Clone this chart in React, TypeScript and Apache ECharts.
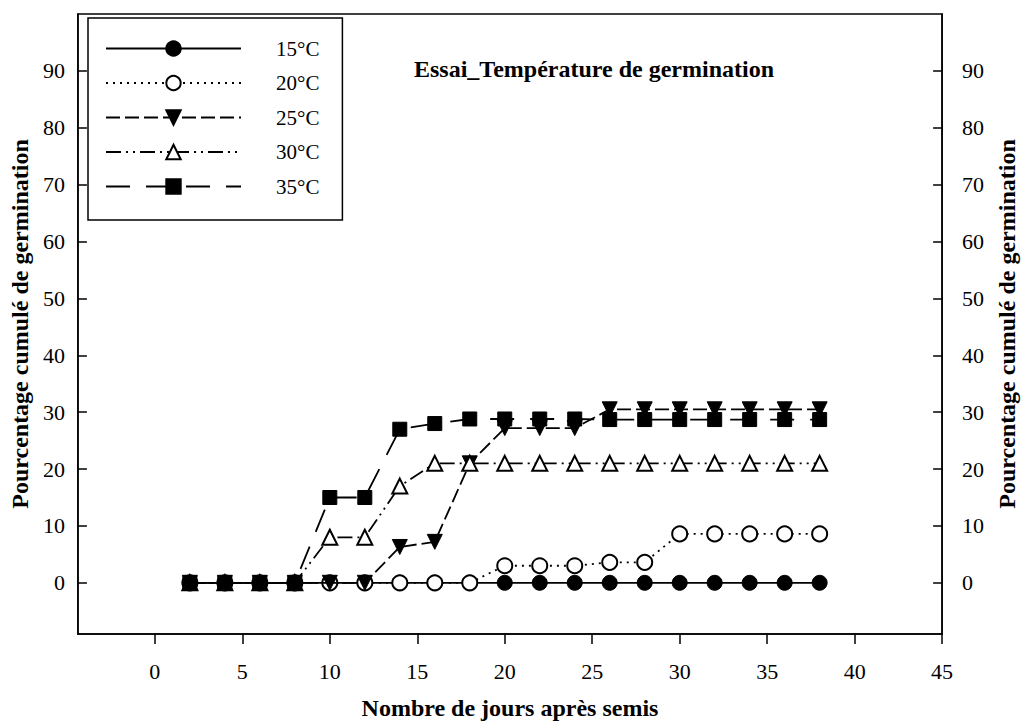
import React, { useEffect, useRef } from "react";
import * as echarts from "echarts";

const days = [2, 4, 6, 8, 10, 12, 14, 16, 18, 20, 22, 24, 26, 28, 30, 32, 34, 36, 38];
const names = ["15°C", "20°C", "25°C", "30°C", "35°C"];
const t15 = [0, 0, 0, 0, 0, 0, 0, 0, 0, 0, 0, 0, 0, 0, 0, 0, 0, 0, 0];
const t20 = [0, 0, 0, 0, 0, 0, 0, 0, 0, 3, 3, 3, 3.6, 3.6, 8.6, 8.6, 8.6, 8.6, 8.6];
const t25 = [0, 0, 0, 0, 0, 0, 6.3, 7.2, 21, 27.2, 27.2, 27.2, 30.5, 30.5, 30.5, 30.5, 30.5, 30.5, 30.5];
const t30 = [0, 0, 0, 0, 8, 8, 17, 21, 21, 21, 21, 21, 21, 21, 21, 21, 21, 21, 21];
const t35 = [0, 0, 0, 0, 15, 15, 27, 28, 28.8, 28.8, 28.8, 28.8, 28.7, 28.7, 28.7, 28.7, 28.7, 28.7, 28.7];
const xTicks = [0, 5, 10, 15, 20, 25, 30, 35, 40, 45];
const yTicks = [0, 10, 20, 30, 40, 50, 60, 70, 80, 90];

const title = "Essai_Température de germination";
const xName = "Nombre de jours après semis";
const yName = "Pourcentage cumulé de germination";

const FONT = "Liberation Serif, Times New Roman, serif";

export default function App() {
  const ref = useRef<HTMLDivElement>(null);
  useEffect(() => {
    const chart = echarts.init(ref.current!, null, { renderer: "svg" });
    const pair = (vals: number[]) => days.map((d, i) => [d, vals[i]]);
    const styles = [
      { data: t15, symbol: "circle", size: 15, fill: "#000", dash: "solid" as any, rot: 0 },
      { data: t20, symbol: "circle", size: 15, fill: "#fff", dash: [2, 5], rot: 0 },
      { data: t25, symbol: "triangle", size: 15, fill: "#000", dash: [14, 5], rot: 180 },
      { data: t30, symbol: "triangle", size: 15, fill: "#fff", dash: [15, 5, 2, 5, 2, 5], rot: 0 },
      { data: t35, symbol: "rect", size: 14, fill: "#000", dash: [24, 16], rot: 0 },
    ];
    const series = styles.map((s, i) => ({
      name: names[i],
      type: "line",
      data: pair(s.data),
      symbol: s.symbol,
      symbolSize: s.size,
      symbolRotate: s.rot,
      showAllSymbol: true,
      lineStyle: { color: "#000", width: 1.8, type: s.dash },
      itemStyle: { color: s.fill, borderColor: "#000", borderWidth: s.fill === "#fff" ? 2 : 1 },
      emphasis: { disabled: true },
      z: 2 + i,
    }));
    const yAxisBase = (pos: "left" | "right") => ({
      type: "value",
      position: pos,
      min: -9,
      max: 100,
      name: yName,
      nameLocation: "middle",
      nameRotate: 90,
      nameGap: pos === "left" ? 41 : 44,
      nameTextStyle: { fontFamily: FONT, fontSize: 24, fontWeight: "bold", color: "#000" },
      axisLine: { show: true, onZero: false, lineStyle: { color: "#000", width: 1.5 } },
      axisTick: { show: true, inside: true, length: 9, lineStyle: { color: "#000", width: 1.5 }, customValues: yTicks },
      axisLabel: { fontFamily: FONT, fontSize: 22, color: "#000", margin: pos === "left" ? 13 : 20, customValues: yTicks },
      splitLine: { show: false },
    });
    chart.setOption({
      animation: false,
      backgroundColor: "#fff",
      grid: { left: 76, right: 69, top: 14, bottom: 86, show: true, borderColor: "#000", borderWidth: 1.5 },
      xAxis: {
        type: "value",
        min: -4.4,
        max: 45,
        name: xName,
        nameLocation: "middle",
        nameGap: 62,
        nameTextStyle: { fontFamily: FONT, fontSize: 24, fontWeight: "bold", color: "#000" },
        axisLine: { show: true, onZero: false, lineStyle: { color: "#000", width: 1.5 } },
        axisTick: { show: true, inside: false, length: 10, lineStyle: { color: "#000", width: 1.5 }, customValues: xTicks },
        axisLabel: { fontFamily: FONT, fontSize: 22, color: "#000", margin: 26, customValues: xTicks },
        splitLine: { show: false },
      },
      yAxis: [yAxisBase("left"), yAxisBase("right")],
      legend: {
        orient: "vertical",
        left: 88,
        top: 18,
        itemWidth: 135,
        itemHeight: 18,
        itemGap: 13.5,
        padding: [20, 23, 23, 17],
        borderColor: "#000",
        borderWidth: 1.5,
        backgroundColor: "#fff",
        selectedMode: false,
        textStyle: { fontFamily: FONT, fontSize: 21, color: "#000", padding: [0, 0, 0, 30] },
        data: names,
      },
      graphic: [
        {
          type: "text",
          x: 594,
          y: 69,
          style: {
            text: title,
            fontFamily: FONT,
            fontSize: 24,
            fontWeight: "bold",
            fill: "#000",
            align: "center",
            verticalAlign: "middle",
          },
        },
      ],
      series,
    });
    return () => chart.dispose();
  }, []);
  return <div ref={ref} style={{ position: "fixed", left: 0, top: 0, width: 1027, height: 725 }} />;
}
